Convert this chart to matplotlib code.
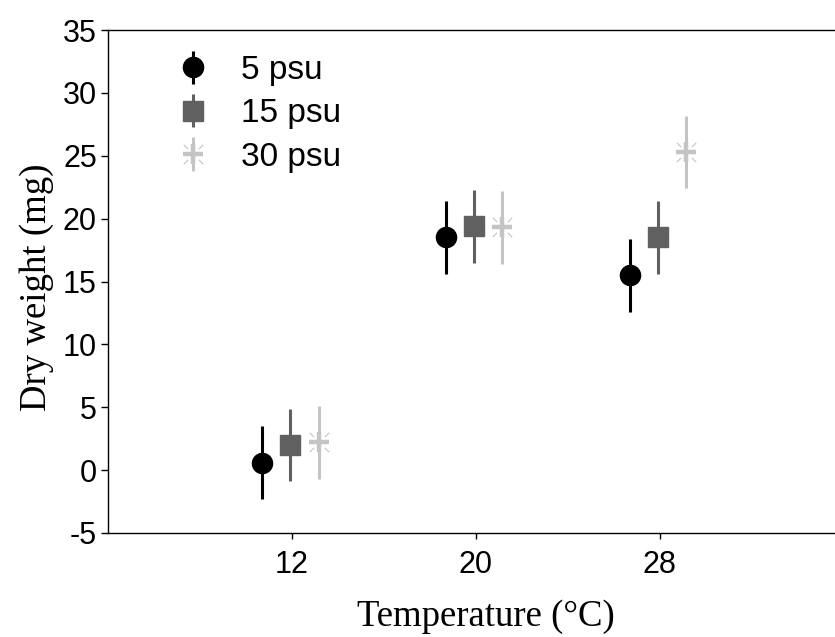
import matplotlib
matplotlib.use("Agg")
import matplotlib.pyplot as plt
import numpy as np
from matplotlib.path import Path
from matplotlib.legend_handler import HandlerTuple

temps = ["12", "20", "28"]
series = ["5 psu", "15 psu", "30 psu"]
means_5 = [0.6, 18.5, 15.5]
means_15 = [2.0, 19.4, 18.5]
means_30 = [2.2, 19.3, 25.3]
err_5 = [2.9, 2.9, 2.9]
err_15 = [2.9, 2.9, 2.9]
err_30 = [2.9, 2.9, 2.9]

plt.rcParams.update({
    "font.family": "sans-serif",
    "font.sans-serif": ["Liberation Sans", "Arial", "DejaVu Sans"],
    "font.size": 22,
    "axes.unicode_minus": False,
})

# diagonal corner strokes of the SigmaPlot-style star
diag = Path(
    [(0.55, 0.55), (1, 1), (-0.55, 0.55), (-1, 1),
     (0.55, -0.55), (1, -1), (-0.55, -0.55), (-1, -1)],
    [Path.MOVETO, Path.LINETO] * 4,
)

fig = plt.figure(figsize=(8.35, 6.37), dpi=100)
ax = fig.add_axes([108 / 835, 104 / 637, 735.5 / 835, 503 / 637])

x = np.arange(1, len(temps) + 1)
offsets = [-0.16, -0.01, 0.145]

black, dark, light = "#000000", "#606060", "#c4c4c4"

h5 = ax.errorbar(x + offsets[0], means_5, yerr=err_5, fmt="o", color=black,
                 ms=14.5, elinewidth=2.2, capsize=0, zorder=3)
h15 = ax.errorbar(x + offsets[1], means_15, yerr=err_15, fmt="s", color=dark,
                  ms=14.5, elinewidth=2.2, capsize=0, zorder=3)
h30 = ax.errorbar(x + offsets[2], means_30, yerr=err_30, fmt="none", ecolor=light,
                  elinewidth=2.2, capsize=0, zorder=3)
p30, = ax.plot(x + offsets[2], means_30, ls="none", marker="+", ms=14,
               mew=3.2, color=light, zorder=4)
d30, = ax.plot(x + offsets[2], means_30, ls="none", marker=diag, ms=14,
               mew=0.8, color=light, zorder=4)

ax.set_xlim(0, 4)
ax.set_ylim(-5, 35)
ax.set_xticks(x)
ax.set_xticklabels(temps)
ax.set_yticks(np.arange(-5, 36, 5))

for s in ["top", "bottom", "left", "right"]:
    ax.spines[s].set_linewidth(1.0)
ax.tick_params(axis="y", direction="out", length=5, width=1, pad=3)
ax.tick_params(axis="x", direction="out", length=4, width=1, pad=8)

ax.set_xlabel("Temperature (\u00b0C)", family="Liberation Serif", fontsize=26.5, labelpad=14)
ax.set_ylabel("Dry weight (mg)", family="Liberation Serif", fontsize=26.5, labelpad=6.5)
ax.xaxis.label.set_x(0.514)
ax.yaxis.label.set_y(0.488)

leg = ax.legend([h5, h15, (h30, p30, d30)], series,
                handler_map={tuple: HandlerTuple(ndivide=1)},
                loc="upper left", bbox_to_anchor=(0.052, 1.01), frameon=False,
                fontsize=24, handlelength=1.0, handletextpad=0.95,
                labelspacing=0.37)

fig.savefig("out.png", dpi=100)
